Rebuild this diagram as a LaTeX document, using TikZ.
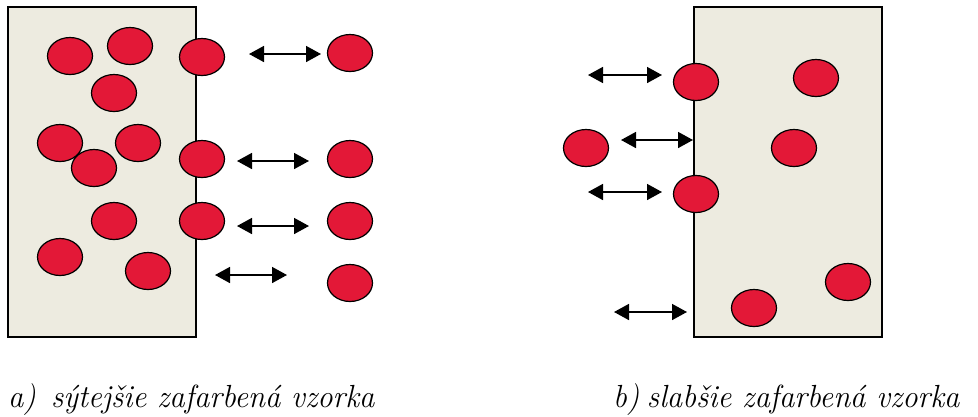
\documentclass[tikz,border=0pt]{standalone}
\usetikzlibrary{shapes.geometric,arrows.meta}
\definecolor{dotred}{RGB}{227,24,55}
\definecolor{samplebg}{RGB}{237,235,224}
\tikzset{
  dot/.style={ellipse,draw=black,line width=1.2pt,fill=dotred,minimum width=45pt,minimum height=37pt,inner sep=0pt},
  sample/.style={draw=black,line width=1.5pt,fill=samplebg},
  exch/.style={line width=1.6pt,{Triangle[length=15pt,width=16pt]}-{Triangle[length=15pt,width=16pt]}},
  caption/.style={anchor=base west,inner sep=0pt,font=\fontsize{32}{32}\selectfont\itshape}
}
\begin{document}
\begin{tikzpicture}[x=1pt,y=-1pt]
\useasboundingbox (0,0) rectangle (978,416);
% samples
\draw[sample] (8,7) rectangle (196,337);
\draw[sample] (694,7) rectangle (882,337);
% left sample dots
\node[dot] (l1) at (70,56) {};
\node[dot] (l2) at (130,46) {};
\node[dot] (l3) at (114,93) {};
\node[dot] (l4) at (60,143) {};
\node[dot] (l5) at (138,143) {};
\node[dot] (l6) at (94,168) {};
\node[dot] (l7) at (114,221) {};
\node[dot] (l8) at (60,257) {};
\node[dot] (l9) at (148,271) {};
\node[dot] (le1) at (202,57) {};
\node[dot] (le2) at (202,159) {};
\node[dot] (le3) at (202,221) {};
\node[dot] (lo1) at (350,53) {};
\node[dot] (lo2) at (350,159) {};
\node[dot] (lo3) at (350,221) {};
\node[dot] (lo4) at (350,283) {};
% left arrows
\coordinate (la1s) at (249,54); \coordinate (la1e) at (321,54);
\coordinate (la2s) at (237,161); \coordinate (la2e) at (309,161);
\coordinate (la3s) at (237,226); \coordinate (la3e) at (309,226);
\coordinate (la4s) at (215,275); \coordinate (la4e) at (287,275);
\draw[exch] (la1s) -- (la1e);
\draw[exch] (la2s) -- (la2e);
\draw[exch] (la3s) -- (la3e);
\draw[exch] (la4s) -- (la4e);
% right sample dots
\node[dot] (re1) at (696,82) {};
\node[dot] (r1) at (816,78) {};
\node[dot] (ro1) at (586,148) {};
\node[dot] (r2) at (794,148) {};
\node[dot] (re2) at (696,194) {};
\node[dot] (r3) at (848,282) {};
\node[dot] (r4) at (754,308) {};
% right arrows
\coordinate (ra1s) at (588,75); \coordinate (ra1e) at (662,75);
\coordinate (ra2s) at (621,140); \coordinate (ra2e) at (693,140);
\coordinate (ra3s) at (588,192); \coordinate (ra3e) at (662,192);
\coordinate (ra4s) at (614,312); \coordinate (ra4e) at (687,312);
\draw[exch] (ra1s) -- (ra1e);
\draw[exch] (ra2s) -- (ra2e);
\draw[exch] (ra3s) -- (ra3e);
\draw[exch] (ra4s) -- (ra4e);
% captions
\node[caption] (capa) at (8,407) {\scalebox{0.96}[1]{a)\hspace{16pt}sýtejšie zafarbená vzorka}};
\node[caption] (capb) at (613,407) {\scalebox{0.96}[1]{b)\hspace{8pt}slabšie zafarbená vzorka}};
\end{tikzpicture}
\end{document}
